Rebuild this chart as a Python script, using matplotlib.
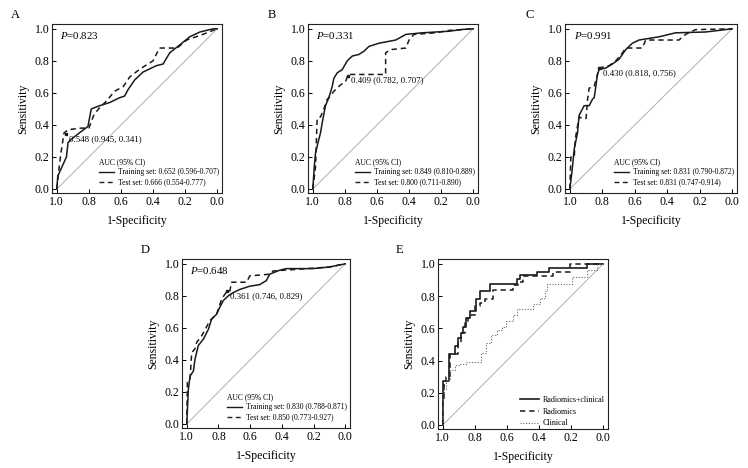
import matplotlib
matplotlib.use("Agg")
import matplotlib.pyplot as plt
from matplotlib.lines import Line2D

plt.rcParams['font.family'] = ['Liberation Serif', 'DejaVu Serif']
plt.rcParams['mathtext.fontset'] = 'custom'
plt.rcParams['mathtext.it'] = 'Liberation Serif:italic'
plt.rcParams['mathtext.rm'] = 'Liberation Serif'

# ---------------- data (specificity, sensitivity) ----------------
# Panel A
a_train_spec = [1.0, 0.994, 0.9625, 0.94, 0.93, 0.91, 0.86, 0.806, 0.785, 0.733, 0.67, 0.608, 0.577,
                0.556, 0.515, 0.4625, 0.379, 0.3375, 0.296, 0.233, 0.171, 0.108, 0.025, 0.0]
a_train_sens = [0.0, 0.08, 0.15, 0.20, 0.29, 0.31, 0.35, 0.39, 0.50, 0.52, 0.54, 0.57, 0.58,
                0.62, 0.68, 0.73, 0.77, 0.78, 0.85, 0.90, 0.95, 0.98, 1.0, 1.0]
a_test_spec = [1.0, 0.985, 0.975, 0.955, 0.93, 0.85, 0.80, 0.77, 0.74, 0.69, 0.64, 0.585, 0.545,
               0.48, 0.40, 0.36, 0.25, 0.19, 0.09, 0.0]
a_test_sens = [0.0, 0.14, 0.22, 0.35, 0.37, 0.38, 0.38, 0.46, 0.50, 0.55, 0.61, 0.64, 0.70,
               0.75, 0.80, 0.88, 0.88, 0.93, 0.965, 1.0]

# Panel B
b_train_spec = [1.0, 0.99, 0.983, 0.9625, 0.952, 0.942, 0.921, 0.90, 0.879, 0.869, 0.848, 0.817, 0.785,
                0.754, 0.7125, 0.681, 0.65, 0.5875, 0.483, 0.42, 0.317, 0.15, 0.067, 0.0]
b_train_sens = [0.0, 0.15, 0.225, 0.31, 0.35, 0.41, 0.52, 0.57, 0.64, 0.69, 0.725, 0.745, 0.80,
                0.83, 0.84, 0.86, 0.89, 0.91, 0.93, 0.965, 0.975, 0.985, 0.996, 1.0]
b_test_spec = [1.0, 0.983, 0.973, 0.952, 0.931, 0.91, 0.89, 0.869, 0.827, 0.796, 0.779, 0.546, 0.546,
               0.515, 0.42, 0.40, 0.369, 0.233, 0.15, 0.0]
b_test_sens = [0.0, 0.14, 0.44, 0.45, 0.50, 0.56, 0.58, 0.61, 0.65, 0.67, 0.715, 0.715, 0.85,
               0.87, 0.88, 0.93, 0.965, 0.975, 0.99, 1.0]

# Panel C
c_train_spec = [1.0, 0.988, 0.973, 0.953, 0.943, 0.912, 0.881, 0.861, 0.85, 0.84, 0.83, 0.82, 0.779,
                0.738, 0.697, 0.656, 0.615, 0.574, 0.512, 0.451, 0.348, 0.164, 0.041, 0.0]
c_train_sens = [0.0, 0.10, 0.25, 0.35, 0.46, 0.52, 0.52, 0.56, 0.57, 0.64, 0.715, 0.745, 0.755,
                0.78, 0.81, 0.87, 0.91, 0.93, 0.94, 0.95, 0.975, 0.98, 0.995, 1.0]
c_test_spec = [1.0, 0.994, 0.973, 0.967, 0.943, 0.922, 0.90, 0.891, 0.881, 0.85, 0.83, 0.818, 0.758,
               0.717, 0.676, 0.656, 0.553, 0.533, 0.328, 0.287, 0.225, 0.0]
c_test_sens = [0.0, 0.20, 0.20, 0.31, 0.45, 0.44, 0.44, 0.56, 0.63, 0.64, 0.715, 0.756, 0.77,
               0.80, 0.85, 0.88, 0.88, 0.93, 0.93, 0.965, 0.995, 1.0]

# Panel D
d_train_spec = [1.0, 0.99, 0.979, 0.958, 0.948, 0.927, 0.895, 0.864, 0.843, 0.812, 0.791, 0.77, 0.738,
                0.707, 0.665, 0.603, 0.54, 0.498, 0.477, 0.414, 0.372, 0.205, 0.10, 0.0]
d_train_sens = [0.0, 0.215, 0.30, 0.33, 0.405, 0.49, 0.53, 0.59, 0.655, 0.685, 0.73, 0.77, 0.80,
                0.82, 0.84, 0.86, 0.87, 0.895, 0.935, 0.96, 0.97, 0.97, 0.98, 1.0]
d_test_spec = [1.0, 0.996, 0.979, 0.969, 0.948, 0.937, 0.906, 0.854, 0.812, 0.780, 0.746, 0.728, 0.718,
               0.623, 0.602, 0.477, 0.456, 0.10, 0.0]
d_test_sens = [0.0, 0.26, 0.28, 0.445, 0.47, 0.51, 0.55, 0.645, 0.685, 0.78, 0.829, 0.83, 0.885,
               0.885, 0.925, 0.935, 0.955, 0.98, 1.0]

# Panel E
e_comb_spec = [1.0, 0.962, 0.927, 0.906, 0.885, 0.874, 0.858, 0.833, 0.79, 0.77, 0.707, 0.54, 0.519,
               0.414, 0.341, 0.10, 0.0]
e_comb_sens = [0.0, 0.27, 0.44, 0.49, 0.54, 0.57, 0.61, 0.665, 0.71, 0.78, 0.83, 0.875, 0.905,
               0.93, 0.95, 0.975, 1.0]
e_rad_spec = [1.0, 0.99, 0.979, 0.958, 0.907, 0.885, 0.864, 0.843, 0.822, 0.801, 0.77, 0.738, 0.686,
              0.561, 0.529, 0.498, 0.31, 0.205, 0.0]
e_rad_sens = [0.0, 0.17, 0.25, 0.30, 0.44, 0.51, 0.57, 0.63, 0.665, 0.685, 0.74, 0.76, 0.78,
              0.84, 0.87, 0.89, 0.925, 0.95, 1.0]
e_clin_spec = [1.0, 0.99, 0.979, 0.958, 0.927, 0.895, 0.854, 0.77, 0.76, 0.728, 0.697, 0.665, 0.634,
               0.603, 0.561, 0.54, 0.477, 0.435, 0.393, 0.362, 0.351, 0.215, 0.195, 0.132, 0.10, 0.038, 0.0]
e_clin_sens = [0.0, 0.16, 0.225, 0.28, 0.34, 0.37, 0.38, 0.39, 0.39, 0.445, 0.51, 0.56, 0.59,
               0.61, 0.645, 0.685, 0.72, 0.72, 0.75, 0.79, 0.83, 0.875, 0.875, 0.92, 0.92, 0.96, 1.0]

p_values = ["0.823", "0.331", "0.991", "0.648"]
cutoff_labels = ["0.548 (0.945, 0.341)", "0.409 (0.782, 0.707)", "0.430 (0.818, 0.756)", "0.361 (0.746, 0.829)"]
cutoff_spec = [0.945, 0.782, 0.818, 0.746]
cutoff_sens = [0.341, 0.707, 0.756, 0.829]
train_labels = ["Training set: 0.652 (0.596-0.707)", "Training set: 0.849 (0.810-0.889)",
                "Training set: 0.831 (0.790-0.872)", "Training set: 0.830 (0.788-0.871)"]
test_labels = ["Test set: 0.666 (0.554-0.777)", "Test set: 0.800 (0.711-0.890)",
               "Test set: 0.831 (0.747-0.914)", "Test set: 0.850 (0.773-0.927)"]
e_labels = ["Radiomics+clinical", "Radiomics", "Clinical"]
panel_letters = ["A", "B", "C", "D", "E"]
ticks = [1.0, 0.8, 0.6, 0.4, 0.2, 0.0]

# ---------------- figure ----------------
W, H = 748, 468
fig = plt.figure(figsize=(W / 100, H / 100), dpi=100)

def rect(l, r, t, b):
    return [l / W, 1 - b / H, (r - l) / W, (b - t) / H]

axes_px = [(52, 222, 24, 193), (308, 478, 24, 193), (565, 737, 24, 193),
           (182, 350, 259, 428), (438, 608, 259, 429)]
letter_px = [(11, 15), (268, 15), (526, 15), (141, 250), (396, 250)]

DASH = (0, (3.5, 2.5))
INK = '#1a1a1a'

def style_axes(ax):
    ax.set_xlim(1.03, -0.03)
    ax.set_ylim(-0.025, 1.03)
    ax.set_xticks(ticks)
    ax.set_yticks(ticks)
    ax.set_xticklabels([f"{t:.1f}" for t in ticks])
    ax.set_yticklabels([f"{t:.1f}" for t in ticks])
    ax.tick_params(direction='in', length=3, width=0.7, labelsize=8.5, pad=2, colors='black')
    for s in ax.spines.values():
        s.set_linewidth(0.8)
        s.set_color('#222222')
    ax.set_xlabel("1-Specificity", fontsize=8.5, labelpad=5)
    ax.set_ylabel("Sensitivity", fontsize=8.5, labelpad=4)
    ax.plot([1, 0], [0, 1], color='#b0b0b0', lw=0.7, zorder=1)

train = [(a_train_spec, a_train_sens), (b_train_spec, b_train_sens),
         (c_train_spec, c_train_sens), (d_train_spec, d_train_sens)]
test = [(a_test_spec, a_test_sens), (b_test_spec, b_test_sens),
        (c_test_spec, c_test_sens), (d_test_spec, d_test_sens)]

for i in range(4):
    ax = fig.add_axes(rect(*axes_px[i]))
    style_axes(ax)
    ax.plot(train[i][0], train[i][1], color=INK, lw=1.1, zorder=3)
    ax.plot(test[i][0], test[i][1], color=INK, lw=1.1, ls=DASH, zorder=3)
    ax.plot([cutoff_spec[i]], [cutoff_sens[i]], marker='s', ms=2, color=INK, zorder=4)
    ax.annotate(cutoff_labels[i], (cutoff_spec[i], cutoff_sens[i]), xytext=(2.5, -3.5),
                textcoords='offset points', ha='left', va='center', fontsize=6.3)
    ax.text(0.05, 0.965, r"$\it{P}$=" + p_values[i], transform=ax.transAxes,
            ha='left', va='top', fontsize=7.8)
    h1 = Line2D([], [], color=INK, lw=1.0)
    h2 = Line2D([], [], color=INK, lw=1.0, ls=DASH)
    ax.legend([h1, h2], [train_labels[i], test_labels[i]], title="AUC (95% CI)",
              loc='lower right', bbox_to_anchor=(1.0, 0.02), frameon=False, fontsize=5.5,
              title_fontsize=5.5, handlelength=2.0, handletextpad=0.5, labelspacing=0.3,
              borderpad=0.2, borderaxespad=0.2, alignment='left')

ax = fig.add_axes(rect(*axes_px[4]))
style_axes(ax)
ax.plot(e_comb_spec, e_comb_sens, color=INK, lw=1.2, drawstyle='steps-pre', zorder=3, label=e_labels[0])
ax.plot(e_rad_spec, e_rad_sens, color=INK, lw=1.1, ls=DASH, drawstyle='steps-pre', zorder=3, label=e_labels[1])
ax.plot(e_clin_spec, e_clin_sens, color='#6a6a6a', lw=0.8, ls=(0, (1, 1.5)), drawstyle='steps-pre', zorder=3, label=e_labels[2])
ax.legend(loc='lower right', bbox_to_anchor=(1.0, -0.01), frameon=False, fontsize=5.8,
          handlelength=2.3, handletextpad=0.5, labelspacing=0.45, borderpad=0.2, borderaxespad=0.2)

for (lx, ly), letter in zip(letter_px, panel_letters):
    fig.text(lx / W, 1 - ly / H, letter, fontsize=9, ha='left', va='center')

fig.savefig("out.png", dpi=100)
